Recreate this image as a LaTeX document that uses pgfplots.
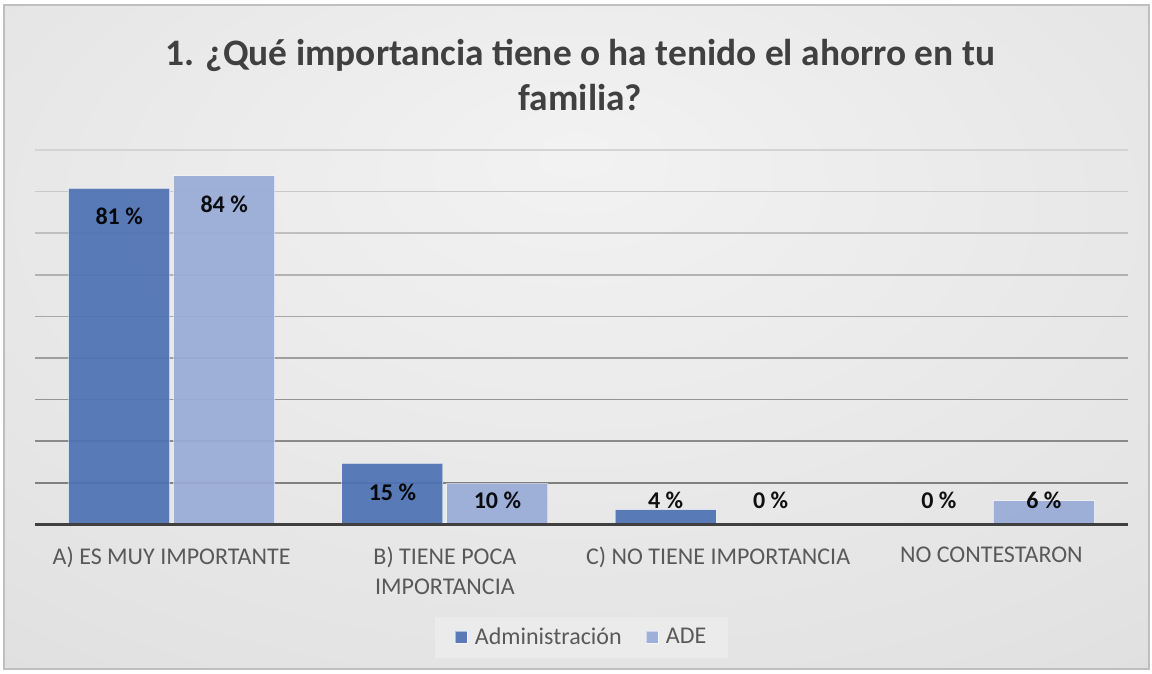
\documentclass[border=0pt]{standalone}
\usepackage{pgfplots}
\usepackage{pgfplotstable}
\pgfplotsset{compat=1.18}
\usepackage{fontspec}
\setmainfont{Carlito}
\definecolor{adm}{HTML}{4E72B4}
\definecolor{ade}{HTML}{99ABD7}
\definecolor{titlec}{HTML}{404040}
\definecolor{labc}{HTML}{595959}
\pgfdeclareradialshading{bgshade}{\pgfpoint{0bp}{14bp}}{color(0bp)=(white!95!black); color(35bp)=(white!89!black); color(75bp)=(white!80!black)}

\pgfplotstableread{
x y lab off
0 80.8 81 -14.25
1 14.7 15 -14.25
2 3.6 4 4.4
3 0 0 12
}\admtab
\pgfplotstableread{
x y lab off
0 83.8 84 -14.25
1 9.8 10 -8.35
2 0 0 12
3 5.7 6 0.35
}\adetab

\begin{document}
\begin{tikzpicture}
\useasboundingbox (0,0) rectangle (576pt,337pt);
\shade[shading=bgshade] (2pt,2.5pt) rectangle (574.5pt,334.5pt);
\draw[black!25, line width=0.6pt] (2pt,2.5pt) rectangle (574.5pt,334.5pt);
\node[font=\bfseries\fontsize{18.7}{22.5}\selectfont, text=titlec, align=center] at (290.25pt,299.75pt) {1. ¿Qué importancia tiene o ha tenido el ahorro en tu\\familia?};
% gridlines (darker toward the bottom, as in the reference)
\foreach \v/\c in {10/50,20/46,30/42,40/38,50/34,60/30,70/25,80/21,90/17}{
  \draw[black!\c, line width=0.8pt] (17.5pt,{74.75pt+2.08056pt*\v}) -- (564pt,{74.75pt+2.08056pt*\v});
}
\begin{axis}[
  at={(17.5pt,74.75pt)}, anchor=south west,
  scale only axis, width=546.5pt, height=187.25pt,
  ymin=0, ymax=90, xmin=-0.5, xmax=3.5,
  ybar=2pt, bar width=50.5pt,
  axis line style={draw=none},
  tick style={draw=none},
  ytick=\empty,
  xtick={0,1,2,3},
  xticklabels={A) ES MUY IMPORTANTE,{B) TIENE POCA\\IMPORTANCIA},C) NO TIENE IMPORTANCIA,NO CONTESTARON},
  xticklabel style={font=\fontsize{12}{15}\selectfont, text=labc, align=center, anchor=north, yshift=-3.5pt},
  point meta=explicit symbolic,
  nodes near coords={\textbf{\pgfplotspointmeta~\%}},
  visualization depends on={\thisrow{off} \as \offv},
  every node near coord/.append style={anchor=center, yshift=\offv pt, text=black, font=\fontsize{12}{14}\selectfont},
  legend style={at={(0.5,-0.3017)}, anchor=center, draw=none, fill=white!92!black,
    legend columns=2, font=\fontsize{12}{14}\selectfont, text=labc,
    inner xsep=10pt, inner ysep=2.5pt,
    nodes={inner xsep=1pt, inner ysep=3pt},
    /tikz/every odd column/.append style={column sep=2.5pt},
    /tikz/column 2/.append style={column sep=11pt}},
  legend image code/.code={\draw[#1] (0pt,-3pt) rectangle (6pt,3pt);},
  clip=false,
]
\addplot[fill=adm, fill opacity=0.93, draw=white, draw opacity=0.5, line width=0.6pt] table[x=x,y=y,meta=lab] {\admtab};
\addplot[fill=ade, fill opacity=0.93, draw=white, draw opacity=0.5, line width=0.6pt] table[x=x,y=y,meta=lab] {\adetab};
\draw[color=titlec, line width=1.6pt] (rel axis cs:0,0) -- (rel axis cs:1,0);
\legend{Administración,ADE}
\end{axis}
\end{tikzpicture}
\end{document}
